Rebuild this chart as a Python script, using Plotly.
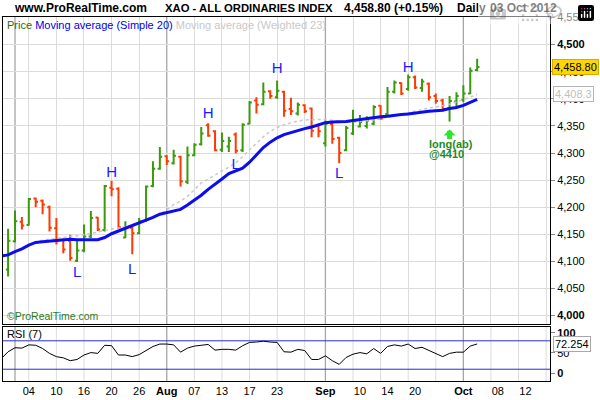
import plotly.graph_objects as go
import pandas as pd

# ---------------- data ----------------
trading_days = [d.strftime("%Y-%m-%d") for d in pd.bdate_range("2012-06-28", "2012-10-17")]
day_pos = {d: i for i, d in enumerate(trading_days)}

bar_dates = trading_days[1:70]    # 29 Jun .. 03 Oct 2012
line_dates = trading_days[0:70]   # 28 Jun .. 03 Oct 2012

opens = [4085, 4137, 4173, 4167, 4216, 4212, 4200, 4161, 4140, 4138,
         4101, 4120, 4146, 4181, 4158, 4236, 4234, 4144, 4162, 4152,
         4175, 4239, 4271, 4294, 4281, 4293, 4247, 4296, 4316, 4351,
         4340, 4306, 4312, 4334, 4305, 4354, 4397, 4390, 4414, 4403,
         4413, 4381, 4373, 4388, 4382, 4350, 4318, 4353, 4328, 4305,
         4336, 4349, 4350, 4354, 4387, 4372, 4413, 4429, 4418, 4440,
         4420, 4428, 4405, 4397, 4383, 4395, 4398, 4410, 4453]
highs = [4160, 4194, 4182, 4217, 4218, 4214, 4203, 4180, 4142, 4149,
         4139, 4168, 4193, 4182, 4241, 4249, 4237, 4174, 4164, 4180,
         4240, 4285, 4311, 4296, 4306, 4295, 4312, 4318, 4348, 4355,
         4342, 4338, 4330, 4338, 4355, 4396, 4403, 4430, 4416, 4434,
         4415, 4402, 4393, 4390, 4384, 4354, 4360, 4356, 4330, 4350,
         4380, 4370, 4368, 4388, 4388, 4422, 4434, 4430, 4445, 4443,
         4437, 4430, 4410, 4400, 4405, 4412, 4425, 4458, 4474]
lows = [4072, 4135, 4159, 4166, 4200, 4187, 4155, 4131, 4115, 4101,
        4099, 4117, 4143, 4156, 4155, 4220, 4160, 4143, 4113, 4150,
        4173, 4237, 4269, 4278, 4279, 4238, 4243, 4294, 4314, 4330,
        4303, 4302, 4302, 4299, 4302, 4353, 4373, 4388, 4400, 4400,
        4367, 4370, 4369, 4374, 4329, 4329, 4312, 4317, 4281, 4303,
        4333, 4347, 4345, 4351, 4361, 4369, 4410, 4407, 4415, 4418,
        4413, 4397, 4391, 4377, 4358, 4385, 4394, 4409, 4451]
closes = [4138, 4174, 4166, 4215, 4210, 4205, 4162, 4138, 4122, 4106,
          4120, 4146, 4180, 4159, 4239, 4233, 4163, 4162, 4152, 4174,
          4238, 4271, 4293, 4285, 4295, 4248, 4296, 4315, 4336, 4332,
          4305, 4322, 4322, 4304, 4352, 4393, 4389, 4413, 4405, 4415,
          4378, 4377, 4389, 4377, 4341, 4340, 4354, 4326, 4300, 4346,
          4358, 4357, 4360, 4385, 4364, 4413, 4430, 4410, 4440, 4421,
          4432, 4403, 4396, 4381, 4396, 4405, 4410, 4452, 4458.8]

sma20 = [4110,
         4112, 4118, 4123, 4130, 4135, 4136, 4137, 4138, 4140, 4141,
         4140, 4140, 4140, 4140, 4144, 4151, 4156, 4161, 4165, 4170,
         4175, 4181, 4187, 4190, 4192, 4196, 4204, 4213, 4222, 4233,
         4242, 4252, 4262, 4267, 4272, 4283, 4297, 4310, 4320, 4328,
         4334, 4338, 4342, 4345, 4348, 4352, 4356, 4357, 4357, 4358,
         4360, 4362, 4364, 4366, 4367, 4368, 4370, 4371, 4372, 4374,
         4376, 4377, 4378, 4379, 4382, 4384, 4388, 4393, 4399]
wma23 = [4108,
         4112, 4118, 4124, 4130, 4136, 4139, 4141, 4143, 4145, 4146,
         4147, 4149, 4151, 4154, 4157, 4159, 4161, 4164, 4167, 4171,
         4176, 4181, 4187, 4195, 4205, 4211, 4220, 4232, 4245, 4252,
         4259, 4266, 4274, 4282, 4293, 4306, 4318, 4330, 4340, 4347,
         4352, 4356, 4359, 4361, 4361, 4361, 4362, 4360, 4358, 4357,
         4357, 4358, 4360, 4361, 4363, 4366, 4369, 4372, 4375, 4378,
         4381, 4383, 4385, 4387, 4390, 4394, 4398, 4403, 4408.3]
rsi7 = [36,
        53, 63, 62, 70, 69, 61, 49, 41, 38, 31,
        34, 45, 51, 49, 69, 68, 45, 45, 41, 46,
        56, 66, 72, 72, 70, 52, 62, 67, 69, 71,
        57, 59, 59, 57, 68, 76, 77, 79, 77, 76,
        53, 52, 59, 56, 34, 34, 43, 31, 22, 39,
        47, 51, 48, 61, 49, 66, 70, 67, 72, 61,
        64, 56, 49, 41, 49, 52, 52, 67, 72.254]

label_dates = ["2012-07-04", "2012-07-10", "2012-07-16", "2012-07-20", "2012-07-26",
               "2012-08-01", "2012-08-07", "2012-08-13", "2012-08-17", "2012-08-23",
               "2012-09-03", "2012-09-10", "2012-09-14", "2012-09-20",
               "2012-10-01", "2012-10-08", "2012-10-12"]
label_text = ["04", "10", "16", "20", "26", "<b>Aug</b>", "07", "13", "17", "23",
              "<b>Sep</b>", "10", "14", "20", "<b>Oct</b>", "08", "12"]
grid_dates = ["2012-07-04", "2012-07-10", "2012-07-16", "2012-07-20", "2012-07-26",
              "2012-08-07", "2012-08-13", "2012-08-17", "2012-08-23", "2012-08-29",
              "2012-09-07", "2012-09-13", "2012-09-19", "2012-09-25",
              "2012-10-05", "2012-10-11", "2012-10-17"]
month_dates = ["2012-07-02", "2012-08-01", "2012-09-03", "2012-10-01"]

price_ticks = list(range(4000, 4551, 50))
bold_price_ticks = [4000, 4500]
rsi_ticks = [0, 50, 100]
rsi_ticktext = ["<b>0</b>", "50", "<b>100</b>"]
rsi_levels = [80, 10]

hl_dates = ["2012-07-13", "2012-07-20", "2012-07-25", "2012-08-09",
            "2012-08-15", "2012-08-23", "2012-09-05", "2012-09-19"]
hl_prices = [4078, 4263, 4084, 4371, 4277, 4455, 4261, 4457]
hl_text = ["L", "H", "L", "H", "L", "H", "L", "H"]

signal_date = "2012-09-27"
signal_lines = ["long(ab)", "@4410"]

last_close = 4458.80
change_pct = 0.15
wma_last = 4408.3
rsi_last = 72.254

# ---------------- styling ----------------
FONT = "Liberation Sans, Arial, sans-serif"
GREEN = "#3a9a0c"
RED = "#ff3a00"
GRID = "#dcdcdc"
MONTH = "#a6a6a6"
W, H = 600, 400
ML, MR, MT, MB = 3, 50, 17, 19
PW, PH = W - ML - MR, H - MT - MB
X_RANGE = [0.26, 79.56]
Y_RANGE = [3984.4, 4551.0]
RSI_RANGE = [-19, 114]
main_bottom_px, rsi_top_px = 324, 327


def px_x(x):
    return (x - ML) / PW


def px_y(y):
    return (H - MB - y) / PH


xb = [day_pos[d] for d in bar_dates]
xl = [day_pos[d] for d in line_dates]

fig = go.Figure()
fig.add_trace(go.Scatter(x=xl, y=wma23, mode="lines", hoverinfo="skip",
                         line=dict(color="#c8c8c8", width=1.5, dash="3px,3px"),
                         xaxis="x", yaxis="y"))
fig.add_trace(go.Ohlc(x=xb, open=opens, high=highs, low=lows, close=closes,
                      increasing=dict(line=dict(color=GREEN, width=2)),
                      decreasing=dict(line=dict(color=RED, width=2)),
                      tickwidth=0.33, hoverinfo="skip", xaxis="x", yaxis="y"))
fig.add_trace(go.Scatter(x=xl, y=sma20, mode="lines", hoverinfo="skip",
                         line=dict(color="#0c0cf0", width=3), xaxis="x", yaxis="y"))
fig.add_trace(go.Scatter(x=[day_pos[d] for d in hl_dates], y=hl_prices, mode="text",
                         text=hl_text, textposition="middle center", hoverinfo="skip",
                         textfont=dict(size=15, color="#1a1aff", family=FONT),
                         xaxis="x", yaxis="y"))
fig.add_trace(go.Scatter(x=xl, y=rsi7, mode="lines", hoverinfo="skip",
                         line=dict(color="black", width=1), xaxis="x2", yaxis="y2"))

price_ticktext = [("<b>{:,}</b>" if v in bold_price_ticks else "{:,}").format(v) for v in price_ticks]

axis_common = dict(showline=True, linecolor="black", linewidth=1, mirror=True,
                   zeroline=False, fixedrange=True, automargin=False)

fig.update_layout(
    width=W, height=H, margin=dict(l=ML, r=MR, t=MT, b=MB, autoexpand=False),
    paper_bgcolor="white", plot_bgcolor="white", showlegend=False,
    font=dict(family=FONT, size=11, color="black"),
    xaxis=dict(domain=[0, 1], anchor="y", range=X_RANGE, tickmode="array",
               tickvals=[day_pos[d] for d in grid_dates], showticklabels=False,
               showgrid=True, gridcolor=GRID, gridwidth=1, ticks="",
               rangeslider=dict(visible=False), **axis_common),
    yaxis=dict(domain=[px_y(main_bottom_px), 1], anchor="x", range=Y_RANGE, side="right",
               tickmode="array", tickvals=price_ticks, ticktext=price_ticktext,
               showgrid=True, gridcolor=GRID, gridwidth=1, ticks="outside", ticklen=4,
               tickcolor="#888888", tickfont=dict(size=11, color="black"), **axis_common),
    xaxis2=dict(domain=[0, 1], anchor="y2", range=X_RANGE, tickmode="array",
                tickvals=[day_pos[d] for d in label_dates], ticktext=label_text,
                showgrid=False, ticks="", tickfont=dict(size=11, color="black"),
                rangeslider=dict(visible=False), **axis_common),
    yaxis2=dict(domain=[0, px_y(rsi_top_px)], anchor="x2", range=RSI_RANGE, side="right",
                tickmode="array", tickvals=rsi_ticks, ticktext=rsi_ticktext,
                showgrid=False, ticks="outside", ticklen=4, tickcolor="#888888",
                tickfont=dict(size=11, color="black"), **axis_common),
)

shapes = []
for d in grid_dates:
    p = day_pos[d]
    shapes.append(dict(type="line", xref="x2", yref="y2 domain", x0=p, x1=p, y0=0, y1=1,
                       line=dict(color=GRID, width=1), layer="below"))
for d in month_dates:
    p = day_pos[d]
    for xr, yr in (("x", "y domain"), ("x2", "y2 domain")):
        shapes.append(dict(type="line", xref=xr, yref=yr, x0=p, x1=p, y0=0, y1=1,
                           line=dict(color=MONTH, width=1.3), layer="below"))
for lvl in rsi_levels:
    shapes.append(dict(type="line", xref="x2 domain", yref="y2", x0=0, x1=1, y0=lvl, y1=lvl,
                       line=dict(color="#2b2bd6", width=1), layer="below"))
fig.update_layout(shapes=shapes)

ann = []
header = [("www.ProRealTime.com", 11.5, 12), ("XAO - ALL ORDINARIES INDEX", 163, 11.3),
          ("{:,.2f} (+{:.2f}%)".format(last_close, change_pct), 342, 12),
          ("Daily", 455, 12), ("03 Oct 2012", 488, 12)]
for txt, x0, fs in header:
    ann.append(dict(xref="paper", yref="paper", x=px_x(x0), y=px_y(8), xanchor="left",
                    yanchor="middle", text="<b>" + txt + "</b>", showarrow=False,
                    font=dict(size=fs, color="black", family=FONT)))

legend_html = ('<span style="color:#2a6e00">Price</span> '
               '<span style="color:#0000ee">Moving average (Simple 20)</span> '
               '<span style="color:#c8c8c8">Moving average (Weighted 23)</span>')
ann.append(dict(xref="paper", yref="paper", x=px_x(5), y=px_y(25), xanchor="left",
                yanchor="middle", text=legend_html, showarrow=False,
                font=dict(size=11, family=FONT)))
ann.append(dict(xref="paper", yref="paper", x=px_x(4.5), y=px_y(316), xanchor="left",
                yanchor="middle", text="©ProRealTime.com", showarrow=False,
                font=dict(size=10.5, color="#2f7a1f", family=FONT)))
ann.append(dict(xref="paper", yref="paper", x=px_x(5), y=px_y(333.5), xanchor="left",
                yanchor="middle", text="RSI (7)", showarrow=False,
                font=dict(size=11, color="black", family=FONT)))

# value boxes on the right axis
ann.append(dict(xref="paper", yref="y", x=px_x(552), y=last_close, xanchor="left",
                yanchor="middle", text="{:,.2f}".format(last_close), showarrow=False,
                bgcolor="#ffd700", bordercolor="#d9a900", borderwidth=1, borderpad=1,
                font=dict(size=11, color="black", family=FONT)))
ann.append(dict(xref="paper", yref="y", x=px_x(553), y=wma_last, xanchor="left",
                yanchor="middle", text="{:,.1f}".format(wma_last), showarrow=False,
                bgcolor="white", bordercolor="#b4b4b4", borderwidth=1, borderpad=1,
                font=dict(size=11, color="#c0c0c0", family=FONT)))
ann.append(dict(xref="paper", yref="y2", x=px_x(553), y=rsi_last, xanchor="left",
                yanchor="middle", text="{:.3f}".format(rsi_last), showarrow=False,
                bgcolor="white", bordercolor="#a8a8a8", borderwidth=1, borderpad=1,
                font=dict(size=11, color="black", family=FONT)))

# trade signal
sig_x = day_pos[signal_date]
sig_low = lows[bar_dates.index(signal_date)]
ann.append(dict(xref="x", yref="y", x=sig_x, y=sig_low, text="", showarrow=True,
                ax=0, ay=11, yshift=-8, arrowhead=1, arrowsize=0.4, arrowwidth=5,
                arrowcolor="#2de52d"))
for k, line in enumerate(signal_lines):
    ann.append(dict(xref="x", yref="y", x=sig_x, y=sig_low, xanchor="left",
                    yanchor="middle", xshift=-23, yshift=-22.5 - 10 * k,
                    text="<b>" + line + "</b>", showarrow=False,
                    font=dict(size=11, color="#1f8a1f", family=FONT)))

fig.update_layout(annotations=ann)

# remove the default 8px page margin so the 600x400 figure fills the window
fig.write_html("out.html",
               post_script="document.body.style.margin='0';document.body.style.padding='0';")
